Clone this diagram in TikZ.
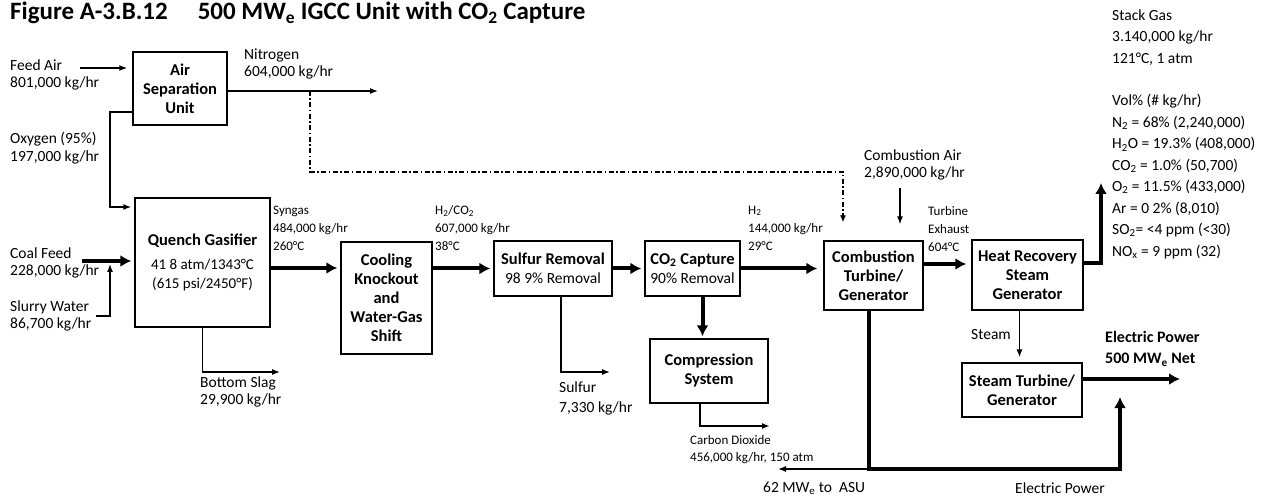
\documentclass[tikz,border=0pt]{standalone}
\usepackage{fontspec}
\setmainfont{Carlito}
\usetikzlibrary{arrows.meta}

\begin{document}
\begin{tikzpicture}[x=1pt,y=-1pt,
	unitbox/.style={draw,line width=1.3pt,align=center,inner sep=2pt,font=\fontsize{16.5}{19}\selectfont\bfseries},
	lbl/.style={anchor=west,align=left,inner sep=0pt,font=\fontsize{15.5}{17.5}\selectfont},
	smalllbl/.style={anchor=west,align=left,inner sep=0pt,font=\fontsize{13}{18}\selectfont},
	stream/.style={line width=1.3pt,-{Latex[length=8pt,width=6pt]}},
	mainflow/.style={line width=4pt,-{Latex[length=11pt,width=12pt]},shorten >=3pt},
	dashflow/.style={line width=1.3pt,dash pattern=on 5pt off 2.5pt on 1.5pt off 2.5pt,-{Latex[length=7pt,width=6pt]}}]
	\useasboundingbox (0,0) rectangle (1267,497);
	\fill[white] (0,0) rectangle (1267,497);
	\node[font=\fontsize{25}{27}\selectfont\bfseries,anchor=base west,inner sep=0pt] (title) at (10,20) {Figure A-3.B.12\hspace{1.2em}500 MW\textsubscript{e} IGCC Unit with CO\textsubscript{2} Capture};

	\node[unitbox,minimum width=94,minimum height=73] (asu) at (180,88.5) {Air\\Separation\\Unit};
	\node[unitbox,minimum width=135,minimum height=129] (gasifier) at (202.5,262.5) {Quench Gasifier\\[5pt]\fontsize{15}{22}\selectfont\mdseries 41 8 atm/1343°C\\\fontsize{15}{22}\selectfont\mdseries (615 psi/2450°F)};
	\node[unitbox,minimum width=91,minimum height=112] (cooling) at (386.5,298) {Cooling\\Knockout\\and\\Water-Gas\\Shift};
	\node[unitbox,minimum width=118,minimum height=55] (sulfur) at (553,268.5) {Sulfur Removal\\\fontsize{15.5}{18}\selectfont\mdseries 98 9\% Removal};
	\node[unitbox,minimum width=95,minimum height=55] (capture) at (692.5,268.5) {CO\textsubscript{2} Capture\\\fontsize{15.5}{18}\selectfont\mdseries 90\% Removal};
	\node[unitbox,minimum width=118,minimum height=64] (compress) at (709,371) {Compression\\System};
	\node[unitbox,minimum width=99,minimum height=69] (ct) at (873.5,275.5) {Combustion\\Turbine/\\Generator};
	\node[unitbox,minimum width=111,minimum height=70] (hrsg) at (1027.5,275) {Heat Recovery\\Steam\\Generator};
	\node[unitbox,minimum width=120,minimum height=54] (st) at (1022,390) {Steam Turbine/\\Generator};

	\node[lbl] (feedair) at (10,75) {Feed Air\\801,000 kg/hr};
	\node[lbl] (nitrogen) at (244,64) {Nitrogen\\604,000 kg/hr};
	\node[lbl] (oxygen) at (10,148) {Oxygen (95\%)\\197,000 kg/hr};
	\node[lbl] (coalfeed) at (10,263) {Coal Feed\\228,000 kg/hr};
	\node[lbl] (slurry) at (10,316) {Slurry Water\\86,700 kg/hr};
	\node[lbl] (slag) at (200,392) {Bottom Slag\\29,900 kg/hr};
	\node[smalllbl] (syngas) at (273,228) {Syngas\\484,000 kg/hr\\260°C};
	\node[smalllbl] (shifted) at (435,228) {H\textsubscript{2}/CO\textsubscript{2}\\607,000 kg/hr\\38°C};
	\node[lbl,font=\fontsize{15.5}{20}\selectfont] (sulfurout) at (559,398) {Sulfur\\7,330 kg/hr};
	\node[smalllbl] (hydrogen) at (748,228) {H\textsubscript{2}\\144,000 kg/hr\\29°C};
	\node[smalllbl,font=\fontsize{13}{17}\selectfont] (co2out) at (690,450) {Carbon Dioxide\\456,000 kg/hr, 150 atm};
	\node[lbl] (combair) at (864,165) {Combustion Air\\2,890,000 kg/hr};
	\node[smalllbl] (exhaust) at (928,229) {Turbine\\Exhaust\\604°C};
	\node[lbl,anchor=east] (steam) at (1011,335) {Steam};
	\node[lbl,font=\fontsize{16}{21}\selectfont\bfseries] (netpower) at (1105,349) {Electric Power\\500 MW\textsubscript{e} Net};
	\node[lbl] (asupower) at (763,488) {62 MW\textsubscript{e} to\ \ ASU};
	\node[lbl] (elpower) at (1015,488) {Electric Power};
	\node[lbl,font=\fontsize{15.5}{21.45}\selectfont] (stackgas) at (1112,134) {Stack Gas\\3.140,000 kg/hr\\121°C, 1 atm\\[21.45pt]Vol\% (\# kg/hr)\\N\textsubscript{2} = 68\% (2,240,000)\\H\textsubscript{2}O = 19.3\% (408,000)\\CO\textsubscript{2} = 1.0\% (50,700)\\O\textsubscript{2} = 11.5\% (433,000)\\Ar = 0 2\% (8,010)\\SO\textsubscript{2}= <4 ppm (<30)\\NO\textsubscript{x} = 9 ppm (32)};

	\coordinate (feedin) at (80,68);
	\coordinate (n2end) at (378,91);
	\coordinate (n2tap) at (310,91);
	\coordinate (n2bend) at (843,172);
	\coordinate (o2top) at (110,112);
	\coordinate (o2low) at (110,207);
	\coordinate (coalin) at (82,261);
	\coordinate (slurryin) at (96,316);
	\coordinate (slurryup) at (110,316);
	\coordinate (slagend) at (280,372);
	\coordinate (mainline) at (0,268);
	\coordinate (sulfurend) at (610,372);
	\coordinate (co2end) at (770,426);
	\coordinate (cairin) at (900,188);
	\coordinate (exline) at (0,264);
	\coordinate (stacktop) at (1101,183);
	\coordinate (netend) at (1180,379);
	\coordinate (powbase) at (869,469);
	\coordinate (powtip) at (1120,397);
	\coordinate (asuend) at (778,469);

	\draw[stream,line width=2.5pt,shorten >=5pt] (feedin) -- (feedin -| asu.west);
	\draw[stream] (n2end -| asu.east) -- (n2end);
	\draw[dashflow,shorten >=18pt] (n2tap) |- (n2bend) -- (n2bend |- ct.north);
	\draw[stream,shorten >=3pt] (o2top -| asu.west) -- (o2top) -- (o2low) -- (o2low -| gasifier.west);
	\draw[mainflow] (coalin) -- (coalin -| gasifier.west);
	\draw[stream,shorten >=3pt] (slurryin) -- (slurryup) -- (slurryup |- coalin);
	\draw[stream] (gasifier.south) |- (slagend);
	\draw[mainflow] (gasifier.east |- mainline) -- (cooling.west |- mainline);
	\draw[mainflow] (cooling.east |- sulfur.west) -- (sulfur.west);
	\draw[mainflow] (sulfur.east) -- (capture.west);
	\draw[mainflow,shorten >=6pt] (capture.east) -- (capture.east -| ct.west);
	\draw[stream] ([xshift=8pt]sulfur.south) |- (sulfurend);
	\draw[mainflow,shorten >=2pt] ([xshift=10pt]capture.south) -- ([xshift=10pt]capture.south |- compress.north);
	\draw[stream,line width=2.5pt] ([xshift=-9pt]compress.south) |- (co2end);
	\draw[stream,shorten >=16pt] (cairin) -- (cairin |- ct.north);
	\draw[mainflow,shorten >=5pt] (ct.east |- exline) -- (hrsg.west |- exline);
	\draw[mainflow,shorten >=0pt] ([yshift=12pt]hrsg.east) -| (stacktop);
	\draw[stream,shorten >=5pt] ([xshift=-8pt]hrsg.south) -- ([xshift=-8pt]hrsg.south |- st.north);
	\draw[mainflow,shorten >=0pt] (netend -| st.east) -- (netend);
	\draw[mainflow,shorten >=0pt] ([xshift=-4.5pt]ct.south) -- (powbase) -| (powtip);
	\draw[stream] (powbase) -- (asuend);
\end{tikzpicture}
\end{document}
